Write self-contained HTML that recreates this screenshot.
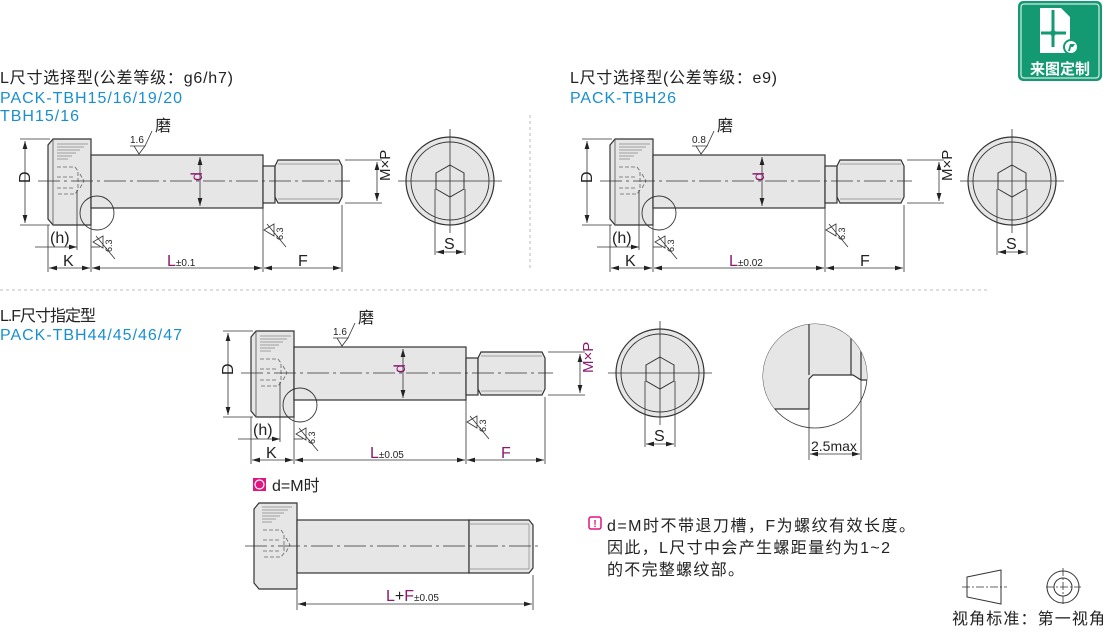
<!DOCTYPE html>
<html><head><meta charset="utf-8"><style>
body{margin:0;background:#fff;width:1110px;height:629px;overflow:hidden}
svg text{font-family:"Liberation Sans","Noto Sans CJK SC",sans-serif}
</style></head><body>
<svg width="1110" height="629" viewBox="0 0 1110 629" xmlns="http://www.w3.org/2000/svg">
<defs>
<marker id="a" viewBox="0 0 10 6" refX="10" refY="3" markerWidth="10" markerHeight="6" orient="auto-start-reverse"><path d="M0,0L10,3L0,6z" fill="#222"/></marker>
<g id="bolt">
 <path d="M53,139H91V225H53L48,219V145Z" fill="#e6e6e6" stroke="#333" stroke-width="1.2"/>
 <path d="M53,139V225" stroke="#555" stroke-width="0.8"/>
 <g stroke="#888" stroke-width="0.8"><path d="M57,144H88M57,147H84M57,150H80M57,153H76M57,156H72M57,159H68"/></g>
 <g stroke="#666" stroke-width="0.8" stroke-dasharray="4,2" fill="none"><path d="M57,167H75L78,171V190L75,194H57M57,177H75M57,188H75M80,174L84,181L80,188"/></g>
 <rect x="91" y="155" width="172" height="53" fill="#e6e6e6" stroke="#333" stroke-width="1.2"/>
 <rect x="263" y="166" width="12" height="37" fill="#e6e6e6" stroke="#333" stroke-width="1.2"/>
 <path d="M275,166L278,160H339L342,166V197L339,203H278L275,197Z" fill="#e6e6e6" stroke="#333" stroke-width="1.2"/>
 <path d="M278,164H339M278,199H339" stroke="#888" stroke-width="0.7"/>
 <path d="M38,181H350" stroke="#333" stroke-width="0.8" stroke-dasharray="22,4,3,4"/>
 <circle cx="97" cy="213" r="17" fill="none" stroke="#333" stroke-width="0.9"/>
 <g stroke="#333" stroke-width="0.8" fill="none">
  <path d="M20,139H50M20,225H50"/>
  <path d="M25,141V223" marker-start="url(#a)" marker-end="url(#a)"/>
  <path d="M200,157V206" marker-start="url(#a)" marker-end="url(#a)"/>
  <path d="M345,160H382M345,203H382"/>
  <path d="M377,162V201" marker-start="url(#a)" marker-end="url(#a)"/>
  <path d="M48,225V272M91,208V272M263,208V272M342,205V272M77,190V250"/>
  <path d="M35,247H77" marker-end="url(#a)"/><path d="M91,247H100"/>
  <path d="M49,268H90" marker-start="url(#a)" marker-end="url(#a)"/>
  <path d="M92,268H262" marker-start="url(#a)" marker-end="url(#a)"/>
  <path d="M264,268H341" marker-start="url(#a)" marker-end="url(#a)"/>
  <path d="M134,146L139,154L145,146ZM130,146H145L152,131"/>
  <path d="M103,236L93,242L103,248ZM96,236L115,259"/>
  <path d="M274,224L264,230L274,236ZM267,224L286,247"/>
 </g>
 <text x="112" y="252" font-size="9" fill="#222" transform="rotate(-90 112 252)">6.3</text>
 <text x="283" y="240" font-size="9" fill="#222" transform="rotate(-90 283 240)">6.3</text>
</g>
<g id="endv">
 <circle cx="0" cy="0" r="44" fill="#e6e6e6" stroke="#333" stroke-width="1.2"/>
 <circle cx="0" cy="0" r="39" fill="none" stroke="#333" stroke-width="0.9"/>
 <path d="M0,-16L14,-8V8L0,16L-14,8V-8Z" fill="#e6e6e6" stroke="#333" stroke-width="1"/>
 <g stroke="#333" stroke-width="0.8" fill="none">
  <path d="M-52,0H52M0,-52V52"/>
  <path d="M-15,8V74M15,8V74"/>
  <path d="M-14,71H14" marker-start="url(#a)" marker-end="url(#a)"/>
 </g>
</g>
</defs>
<g font-size="16" fill="#222">
<text x="0" y="83" textLength="233">L尺寸选择型(公差等级：g6/h7)</text>
<text x="0" y="103" fill="#1a8fd0" textLength="182">PACK-TBH15/16/19/20</text>
<text x="0" y="121" fill="#1a8fd0" textLength="79">TBH15/16</text>
<text x="570" y="83" textLength="207">L尺寸选择型(公差等级：e9)</text>
<text x="570" y="103" fill="#1a8fd0" textLength="106">PACK-TBH26</text>
<text x="0" y="321" textLength="96">L.F尺寸指定型</text>
<text x="0" y="340" fill="#1a8fd0" textLength="182">PACK-TBH44/45/46/47</text>
</g>
<path d="M530,115V270M0,290H990" stroke="#aaa" stroke-width="0.8" stroke-dasharray="3,3"/>
<use href="#bolt"/>
<use href="#endv" x="450" y="181"/>
<g font-size="16" fill="#222">
<text x="155" y="131">磨</text><text x="130" y="143" font-size="10">1.6</text>
<text x="25" y="188" transform="rotate(-90 25 183)">D</text>
<text x="197" y="186" transform="rotate(-90 197 181)" fill="#8b1a6e">d</text>
<text x="374" y="197" transform="rotate(-90 374 181)" font-size="15">M×P</text>
<text x="50" y="243">(h)</text><text x="63" y="266">K</text>
<text x="167" y="266" fill="#8b1a6e">L<tspan font-size="10" fill="#222">±0.1</tspan></text>
<text x="298" y="266">F</text><text x="444" y="249">S</text>
</g>
<use href="#bolt" x="562"/>
<use href="#endv" x="1012" y="181"/>
<g font-size="16" fill="#222">
<text x="717" y="131">磨</text><text x="692" y="143" font-size="10">0.8</text>
<text x="587" y="188" transform="rotate(-90 587 183)">D</text>
<text x="759" y="186" transform="rotate(-90 759 181)" fill="#8b1a6e">d</text>
<text x="936" y="197" transform="rotate(-90 936 181)" font-size="15">M×P</text>
<text x="612" y="243">(h)</text><text x="625" y="266">K</text>
<text x="729" y="266" fill="#8b1a6e">L<tspan font-size="10" fill="#222">±0.02</tspan></text>
<text x="860" y="266">F</text><text x="1006" y="249">S</text>
</g>
<use href="#bolt" x="203" y="192"/>
<use href="#endv" x="660" y="373"/>
<g font-size="16" fill="#222">
<text x="358" y="323">磨</text><text x="333" y="335" font-size="10">1.6</text>
<text x="228" y="380" transform="rotate(-90 228 375)">D</text>
<text x="400" y="378" transform="rotate(-90 400 373)" fill="#8b1a6e">d</text>
<text x="577" y="389" transform="rotate(-90 577 373)" font-size="15" fill="#8b1a6e">M×P</text>
<text x="253" y="435">(h)</text><text x="266" y="458">K</text>
<text x="370" y="458" fill="#8b1a6e">L<tspan font-size="10" fill="#222">±0.05</tspan></text>
<text x="501" y="458" fill="#8b1a6e">F</text><text x="654" y="441">S</text>
</g>
<g>
<clipPath id="c"><circle cx="815" cy="376" r="52"/></clipPath>
<circle cx="815" cy="376" r="52" fill="#fff" stroke="#333" stroke-width="0.8"/>
<g clip-path="url(#c)">
<path d="M760,320H880V380H861L853,375H813L809,379V409H760Z" fill="#e6e6e6"/>
<path d="M809,409V379L813,375H853L861,380H880M760,409H809M809,320V375M851,320V375M861,320V380" stroke="#333" stroke-width="1.2" fill="none"/>
</g>
<path d="M809,405V460M861,380V460" stroke="#333" stroke-width="0.8"/>
<path d="M810,454H860" stroke="#333" stroke-width="0.8" marker-start="url(#a)" marker-end="url(#a)"/>
<text x="811" y="451" font-size="14" fill="#222">2.5max</text>
</g>
<rect x="253" y="478" width="13" height="13" fill="#e0157f"/>
<circle cx="259.5" cy="484.5" r="4.5" fill="none" stroke="#fff" stroke-width="1.2"/>
<text x="272" y="491" font-size="16" fill="#222">d=M时</text>
<path d="M259,503H297V589H259L254,583V509Z" fill="#e6e6e6" stroke="#333" stroke-width="1.2"/>
<g stroke="#888" stroke-width="0.8"><path d="M262,507H292M262,510H288M262,513H284M262,516H280M262,519H276M262,522H272"/></g>
<g stroke="#666" stroke-width="0.8" stroke-dasharray="4,2" fill="none"><path d="M263,530H281L284,534V553L281,557H263M263,540H281M263,551H281M286,538L290,545L286,552"/></g>
<rect x="297" y="520" width="172" height="53" fill="#e6e6e6" stroke="#333" stroke-width="1.2"/>
<path d="M469,520H529L533,525V568L529,573H469Z" fill="#e6e6e6" stroke="#333" stroke-width="1.2"/>
<path d="M469,524H529M469,569H529M529,524V569" stroke="#888" stroke-width="0.7"/>
<path d="M245,546H540" stroke="#333" stroke-width="0.8" stroke-dasharray="22,4,3,4"/>
<path d="M297,590V610M533,575V610" stroke="#333" stroke-width="0.8"/>
<path d="M298,604H532" stroke="#333" stroke-width="0.8" marker-start="url(#a)" marker-end="url(#a)"/>
<text x="386" y="601" font-size="16" fill="#8b1a6e">L<tspan fill="#222">+</tspan>F<tspan font-size="10" fill="#222">±0.05</tspan></text>
<rect x="589" y="517" width="12" height="12" rx="2" fill="none" stroke="#e0157f" stroke-width="1.5"/>
<text x="595" y="527" font-size="10" fill="#e0157f" text-anchor="middle" font-weight="bold">!</text>
<g font-size="16" fill="#222"><text x="607" y="531" textLength="308">d=M时不带退刀槽，F为螺纹有效长度。</text>
<text x="607" y="553" textLength="283">因此，L尺寸中会产生螺距量约为1~2</text>
<text x="607" y="575" textLength="137">的不完整螺纹部。</text></g>
<path d="M967,577L1001,570V604L967,597Z" fill="none" stroke="#333"/>
<path d="M962,587H1007M1046,587H1081M1063,568V606" stroke="#333" stroke-width="0.8" stroke-dasharray="8,2,2,2"/>
<circle cx="1063" cy="587" r="16" fill="none" stroke="#333"/><circle cx="1063" cy="587" r="9" fill="none" stroke="#333"/>
<text x="952" y="624" font-size="16" fill="#222" textLength="153">视角标准：第一视角</text>
<rect x="1018" y="1" width="84" height="80" rx="5" fill="#139a72"/>
<rect x="1021" y="4" width="78" height="74" rx="3" fill="none" stroke="#fff" stroke-width="1"/>
<path d="M1040,8H1061L1070,17V53H1040Z" fill="#fff"/>
<path d="M1053,10V47M1041,33H1066" stroke="#139a72" stroke-width="3"/>
<circle cx="1053" cy="33" r="3" fill="#139a72"/>
<circle cx="1071" cy="47" r="8" fill="#139a72"/><circle cx="1071" cy="47" r="6" fill="#fff"/>
<path d="M1068,51L1070,44H1075L1073,47H1071L1070,51Z" fill="#139a72"/>
<text x="1060" y="74" font-size="15" font-weight="bold" fill="#fff" text-anchor="middle">来图定制</text>
</svg>
</body></html>
